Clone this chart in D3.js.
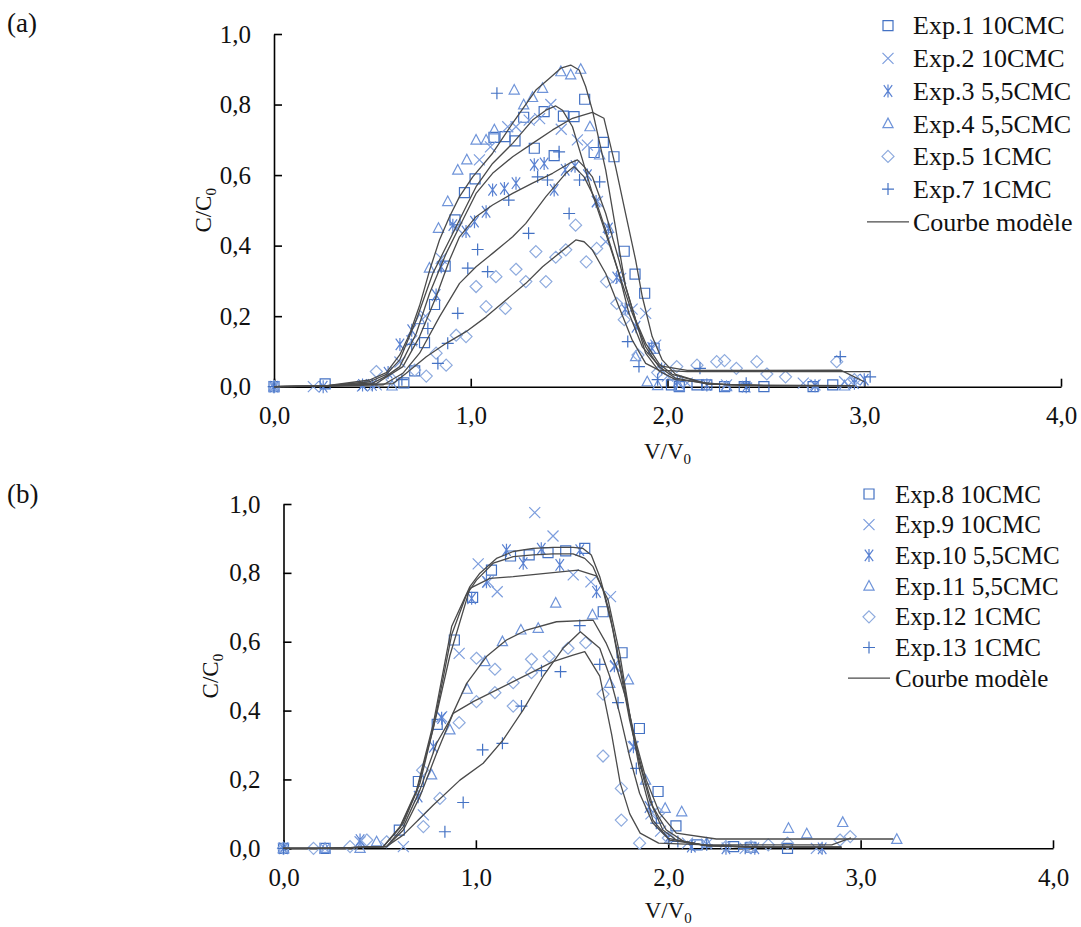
<!DOCTYPE html>
<html><head><meta charset="utf-8">
<script src="https://cdn.jsdelivr.net/npm/d3@7"></script>
<style>
body{margin:0;background:#fff}
svg{display:block}
text{font-family:"Liberation Serif","Times New Roman",serif;fill:#111}
</style>
</head><body>
<svg id="chart" width="1081" height="927"></svg>
<script>
// ---------- tick labels ----------
const xTicks = [0, 1, 2, 3, 4];
const yTicks = [0, 0.2, 0.4, 0.6, 0.8, 1.0];

// ---------- legend names ----------
const namesA = ["Exp.1 10CMC","Exp.2 10CMC","Exp.3 5,5CMC","Exp.4 5,5CMC","Exp.5 1CMC","Exp.7 1CMC"];
const namesB = ["Exp.8 10CMC","Exp.9 10CMC","Exp.10 5,5CMC","Exp.11 5,5CMC","Exp.12 1CMC","Exp.13 1CMC"];
const modelName = "Courbe modèle";

// ---------- panel (a) : experimental points [V/V0, C/C0] ----------
const exp1 = [[0,0],[0.26,0.008],[0.66,0.011],[0.715,0.045],[0.765,0.125],[0.816,0.233],[0.87,0.342],[0.92,0.473],[0.968,0.55],[1.022,0.589],[1.118,0.707],[1.174,0.709],[1.225,0.697],[1.269,0.764],[1.323,0.676],[1.373,0.78],[1.424,0.655],[1.471,0.767],[1.525,0.766],[1.579,0.815],[1.627,0.664],[1.674,0.693],[1.728,0.652],[1.78,0.384],[1.835,0.319],[1.884,0.265],[1.932,0.109],[2.02,0.005],[2.06,0.0],[2.15,0.005],[2.2,0.005],[2.29,0.0],[2.39,0.0],[2.49,0.0],[2.74,0.0],[2.84,0.005]];
const exp2 = [[0,0],[0.2,0.0],[0.45,0.002],[0.52,0.005],[0.64,0.07],[0.7,0.13],[0.77,0.2],[0.85,0.364],[0.93,0.45],[1.044,0.643],[1.1,0.68],[1.188,0.737],[1.23,0.737],[1.297,0.756],[1.35,0.76],[1.407,0.8],[1.46,0.73],[1.542,0.70],[1.593,0.685],[1.644,0.525],[1.686,0.411],[1.762,0.307],[1.82,0.22],[1.889,0.208],[1.94,0.118],[2.0,0.03],[2.1,0.01],[2.3,0.005],[2.69,0.01],[2.75,0.005],[2.9,0.014],[2.95,0.02]];
const exp3 = [[0,0],[0.25,0.0],[0.45,0.005],[0.5,0.005],[0.58,0.04],[0.64,0.12],[0.7,0.16],[0.824,0.26],[0.85,0.34],[0.909,0.458],[0.976,0.44],[1.019,0.468],[1.078,0.496],[1.111,0.558],[1.171,0.562],[1.23,0.577],[1.323,0.629],[1.373,0.633],[1.424,0.558],[1.48,0.615],[1.53,0.625],[1.593,0.6],[1.637,0.525],[1.7,0.449],[1.742,0.31],[1.785,0.22],[1.84,0.17],[1.92,0.11],[1.97,0.05],[2.05,0.015],[2.2,0.005],[2.4,0.0],[2.75,0.003],[2.95,0.01],[3.0,0.02]];
const exp4 = [[0,0],[0.6,0.002],[0.74,0.19],[0.79,0.336],[0.836,0.449],[0.883,0.525],[0.934,0.614],[0.98,0.643],[1.027,0.699],[1.078,0.699],[1.12,0.728],[1.221,0.841],[1.269,0.799],[1.314,0.82],[1.365,0.846],[1.458,0.893],[1.508,0.884],[1.559,0.9],[1.606,0.737],[1.655,0.657],[1.7,0.449],[1.838,0.085],[1.897,0.014],[1.95,0.003],[2.06,0.0],[2.3,0.0],[2.9,0.002]];
const exp5 = [[0,0],[0.52,0.043],[0.6,0.02],[0.715,0.047],[0.774,0.03],[0.824,0.095],[0.875,0.061],[0.926,0.146],[0.976,0.142],[1.027,0.284],[1.078,0.227],[1.128,0.312],[1.176,0.222],[1.23,0.333],[1.28,0.298],[1.331,0.383],[1.382,0.298],[1.432,0.367],[1.483,0.388],[1.533,0.458],[1.587,0.354],[1.64,0.392],[1.69,0.298],[1.742,0.236],[1.78,0.19],[1.85,0.09],[1.95,0.04],[2.047,0.057],[2.15,0.061],[2.25,0.071],[2.29,0.074],[2.35,0.052],[2.454,0.071],[2.505,0.036],[2.6,0.028],[2.86,0.071],[2.95,0.02]];
const exp7 = [[0,0],[0.65,0.02],[0.7,0.12],[0.782,0.165],[0.833,0.066],[0.883,0.123],[0.934,0.208],[0.985,0.336],[1.035,0.389],[1.086,0.326],[1.133,0.832],[1.193,0.529],[1.294,0.435],[1.34,0.595],[1.39,0.586],[1.449,0.666],[1.5,0.491],[1.553,0.586],[1.655,0.581],[1.798,0.128],[1.855,0.057],[1.95,0.02],[2.165,0.052],[2.4,0.01],[2.878,0.085],[3.03,0.028]];

// ---------- panel (a) : model curves ----------
const modelA1 = [[0,0],[0.26,0.002],[0.503,0.011],[0.571,0.03],[0.639,0.057],[0.723,0.151],[0.791,0.265],[0.875,0.378],[0.943,0.454],[1.027,0.548],[1.111,0.605],[1.213,0.652],[1.314,0.69],[1.416,0.728],[1.517,0.761],[1.618,0.778],[1.677,0.761],[1.736,0.624],[1.787,0.491],[1.838,0.359],[1.872,0.255],[1.922,0.142],[1.973,0.076],[2.041,0.035],[2.2,0.008],[2.5,0.003],[2.95,0.003]];
const modelA2 = [[0,0],[0.26,0.002],[0.486,0.014],[0.571,0.035],[0.639,0.076],[0.723,0.189],[0.807,0.321],[0.892,0.416],[0.976,0.51],[1.027,0.567],[1.111,0.633],[1.213,0.69],[1.314,0.756],[1.382,0.784],[1.432,0.796],[1.466,0.784],[1.517,0.737],[1.568,0.643],[1.618,0.548],[1.686,0.435],[1.753,0.321],[1.821,0.208],[1.889,0.113],[1.956,0.057],[2.041,0.024],[2.2,0.008],[2.5,0.003],[2.95,0.003]];
const modelA3 = [[0,0],[0.26,0.002],[0.52,0.009],[0.655,0.057],[0.74,0.142],[0.824,0.255],[0.892,0.359],[0.943,0.425],[1.027,0.482],[1.111,0.515],[1.213,0.548],[1.314,0.577],[1.416,0.605],[1.5,0.633],[1.542,0.643],[1.576,0.624],[1.618,0.595],[1.686,0.491],[1.753,0.359],[1.787,0.284],[1.838,0.189],[1.889,0.123],[1.956,0.066],[2.024,0.035],[2.2,0.008],[2.5,0.003],[2.95,0.003]];
const modelA4 = [[0,0],[0.26,0.002],[0.486,0.019],[0.571,0.04],[0.639,0.09],[0.69,0.15],[0.74,0.23],[0.791,0.33],[0.841,0.416],[0.892,0.482],[0.943,0.539],[1.01,0.595],[1.111,0.662],[1.213,0.747],[1.331,0.841],[1.399,0.874],[1.458,0.903],[1.508,0.912],[1.551,0.898],[1.584,0.851],[1.618,0.784],[1.686,0.614],[1.787,0.284],[1.889,0.095],[1.956,0.045],[2.041,0.02],[2.3,0.005],[2.95,0.003]];
const modelA5 = [[0,0],[0.26,0.002],[0.605,0.009],[0.672,0.038],[0.774,0.085],[0.875,0.123],[0.976,0.156],[1.078,0.198],[1.179,0.246],[1.28,0.293],[1.365,0.34],[1.449,0.378],[1.534,0.416],[1.576,0.411],[1.618,0.388],[1.686,0.321],[1.753,0.227],[1.821,0.132],[1.889,0.066],[1.956,0.047],[2.1,0.043],[3.03,0.043]];
const modelA7 = [[0,0],[0.26,0.002],[0.554,0.005],[0.655,0.038],[0.74,0.095],[0.841,0.198],[0.943,0.293],[1.027,0.34],[1.111,0.378],[1.213,0.425],[1.28,0.463],[1.382,0.539],[1.483,0.605],[1.525,0.624],[1.576,0.595],[1.635,0.529],[1.686,0.444],[1.753,0.321],[1.804,0.208],[1.872,0.113],[1.956,0.06],[2.1,0.046],[2.88,0.047],[3.0,0.014]];

// ---------- panel (b) : experimental points ----------
const exp8 = [[0,0],[0.216,0],[0.602,0.053],[0.701,0.194],[0.799,0.36],[0.888,0.605],[0.983,0.729],[1.081,0.808],[1.18,0.849],[1.277,0.852],[1.375,0.859],[1.467,0.864],[1.566,0.871],[1.662,0.687],[1.76,0.568],[1.85,0.348],[1.947,0.165],[2.04,0.065],[2.15,0.01],[2.34,0.005],[2.43,0.003],[2.62,0.0]];
const exp9 = [[0,0],[0.216,0.0],[0.398,0.019],[0.623,0.005],[0.727,0.097],[0.822,0.382],[0.913,0.566],[1.012,0.826],[1.064,0.774],[1.111,0.745],[1.306,0.975],[1.401,0.907],[1.506,0.794],[1.598,0.774],[1.7,0.731],[1.725,0.528],[1.818,0.295],[1.91,0.1],[1.96,0.05],[2.1,0.015],[2.2,0.012],[2.4,0.0],[2.77,0.0]];
const exp10 = [[0,0],[0.398,0.024],[0.7,0.15],[0.779,0.295],[0.822,0.378],[0.978,0.726],[1.055,0.774],[1.159,0.866],[1.246,0.828],[1.34,0.87],[1.436,0.823],[1.54,0.866],[1.627,0.745],[1.72,0.53],[1.819,0.295],[1.9,0.12],[2.0,0.03],[2.12,0.005],[2.3,0.0],[2.45,0.0],[2.8,0.0]];
const exp11 = [[0,0],[0.216,0],[0.398,0.0],[0.484,0.019],[0.77,0.213],[0.865,0.344],[0.955,0.462],[1.047,0.542],[1.138,0.6],[1.234,0.634],[1.324,0.639],[1.415,0.712],[1.606,0.678],[1.696,0.479],[1.793,0.489],[1.882,0.198],[1.984,0.116],[2.07,0.106],[2.2,0.015],[2.625,0.058],[2.72,0.042],[2.907,0.075],[3.188,0.026]];
const exp12 = [[0,0],[0.156,0],[0.346,0.005],[0.433,0.024],[0.536,0.019],[0.727,0.063],[0.723,0.227],[0.813,0.145],[0.913,0.365],[1.003,0.552],[1.003,0.426],[1.099,0.52],[1.099,0.452],[1.194,0.481],[1.194,0.413],[1.289,0.51],[1.289,0.549],[1.381,0.557],[1.479,0.581],[1.571,0.597],[1.661,0.448],[1.661,0.268],[1.756,0.174],[1.756,0.082],[1.851,0.015],[1.949,0.102],[2.0,0.03],[2.3,0.005],[2.43,0.005],[2.52,0.01],[2.62,0.015],[2.893,0.024],[2.946,0.034]];
const exp13 = [[0,0],[0.839,0.048],[0.934,0.133],[1.035,0.286],[1.138,0.305],[1.237,0.413],[1.341,0.516],[1.44,0.513],[1.54,0.647],[1.644,0.534],[1.739,0.423],[1.834,0.232],[1.938,0.073],[2.05,0.02],[2.2,0.01],[2.4,0.0]];

// ---------- panel (b) : model curves ----------
const modelB8 = [[0,0],[0.22,0],[0.519,0.005],[0.606,0.063],[0.692,0.169],[0.779,0.363],[0.874,0.644],[0.969,0.76],[1.021,0.799],[1.107,0.842],[1.194,0.862],[1.298,0.871],[1.401,0.874],[1.505,0.874],[1.557,0.871],[1.6,0.852],[1.644,0.789],[1.696,0.682],[1.747,0.528],[1.799,0.373],[1.851,0.247],[1.903,0.14],[1.972,0.053],[2.042,0.024],[2.2,0.008],[2.5,0.003],[2.9,0.003]];
const modelB9 = [[0,0],[0.22,0],[0.519,0.005],[0.623,0.073],[0.71,0.19],[0.796,0.39],[0.865,0.56],[0.969,0.755],[1.073,0.784],[1.194,0.789],[1.349,0.798],[1.531,0.808],[1.626,0.791],[1.687,0.722],[1.747,0.567],[1.799,0.392],[1.851,0.228],[1.92,0.082],[2.0,0.029],[2.2,0.008],[2.5,0.003],[2.9,0.003]];
const modelB10 = [[0,0],[0.22,0],[0.519,0.005],[0.606,0.06],[0.692,0.165],[0.779,0.35],[0.874,0.62],[0.95,0.735],[1.003,0.779],[1.09,0.828],[1.194,0.847],[1.298,0.852],[1.401,0.855],[1.505,0.855],[1.566,0.842],[1.609,0.818],[1.661,0.75],[1.713,0.634],[1.765,0.489],[1.817,0.334],[1.869,0.218],[1.92,0.121],[1.99,0.053],[2.08,0.02],[2.2,0.008],[2.5,0.003],[2.9,0.003]];
const modelB11 = [[0,0],[0.22,0],[0.536,0.005],[0.623,0.063],[0.709,0.169],[0.796,0.305],[0.865,0.373],[0.952,0.479],[1.055,0.557],[1.159,0.605],[1.263,0.634],[1.419,0.658],[1.609,0.663],[1.678,0.595],[1.73,0.528],[1.782,0.431],[1.834,0.305],[1.886,0.198],[1.955,0.102],[2.042,0.044],[2.25,0.027],[3.17,0.027]];
const modelB12 = [[0,0],[0.22,0],[0.536,0.005],[0.623,0.053],[0.709,0.15],[0.796,0.276],[0.882,0.392],[0.986,0.426],[1.09,0.455],[1.194,0.484],[1.298,0.513],[1.401,0.542],[1.505,0.561],[1.566,0.571],[1.644,0.5],[1.706,0.33],[1.75,0.19],[1.8,0.1],[1.854,0.044],[1.95,0.015],[2.2,0.01],[2.85,0.01],[2.95,0.03]];
const modelB13 = [[0,0],[0.22,0],[0.536,0.005],[0.623,0.039],[0.779,0.126],[0.917,0.198],[1.038,0.247],[1.142,0.315],[1.246,0.402],[1.349,0.499],[1.453,0.581],[1.543,0.629],[1.644,0.581],[1.696,0.499],[1.747,0.392],[1.799,0.266],[1.851,0.16],[1.92,0.073],[2.007,0.024],[2.2,0.008],[2.5,0.003],[2.9,0.003]];

// ---------- marker styles ----------
const shapes = ["square","times","asterisk","triangle","diamond","plus"];
const markerPath = {
  square:   "M-5,-5H5V5H-5Z",
  times:    "M-5.5,-5.5L5.5,5.5M-5.5,5.5L5.5,-5.5",
  asterisk: "M-4.2,-5.8L4.2,5.8M-4.2,5.8L4.2,-5.8M0,-6.5V6.5",
  triangle: "M0,-5.6L5.1,4H-5.1Z",
  diamond:  "M0,-6L6,0L0,6L-6,0Z",
  plus:     "M-6,0H6M0,-6V6"
};
const markerColor = {
  square: "#4472C4", times: "#7C9DDD", asterisk: "#5A82D2",
  triangle: "#6F94D9", diamond: "#8EABDE", plus: "#4472C4"
};

const panels = [
  { series:[exp1,exp2,exp3,exp4,exp5,exp7], models:[modelA1,modelA2,modelA3,modelA4,modelA5,modelA7],
    names:namesA, label:"(a)", labelY:32,
    x0:274, x1:1061, yTop:34, yBot:386.7, tickFs:25, titleFs:23,
    yTitleX:211, xTitleY:459,
    leg:{mx:888, tx:913, y0:25.6, dy:32.7, fs:26, l0:867, l1:909} },
  { series:[exp8,exp9,exp10,exp11,exp12,exp13], models:[modelB8,modelB9,modelB10,modelB11,modelB12,modelB13],
    names:namesB, label:"(b)", labelY:503,
    x0:283.5, x1:1053, yTop:504, yBot:848.3, tickFs:25, titleFs:23,
    yTitleX:218, xTitleY:918,
    leg:{mx:869, tx:895, y0:494, dy:30.7, fs:25, l0:848, l1:890} }
];

const svg = d3.select("#chart");
const fmt = d => d.toFixed(1).replace(".", ",");

panels.forEach(p => {
  const g = svg.append("g");
  const x = d3.scaleLinear().domain([0, 4]).range([p.x0, p.x1]);
  const y = d3.scaleLinear().domain([0, 1]).range([p.yBot, p.yTop]);

  g.append("text").attr("x", 7).attr("y", p.labelY).attr("font-size", 27).text(p.label);

  const gx = g.append("g").attr("transform", `translate(0,${p.yBot})`)
    .call(d3.axisBottom(x).tickValues(xTicks).tickFormat(fmt)
      .tickSizeInner(-8).tickSizeOuter(0).tickPadding(20));
  const gy = g.append("g").attr("transform", `translate(${p.x0},0)`)
    .call(d3.axisLeft(y).tickValues(yTicks).tickFormat(fmt)
      .tickSizeInner(-8).tickSizeOuter(0).tickPadding(23));
  [gx, gy].forEach(a => {
    a.attr("font-family", '"Liberation Serif","Times New Roman",serif').attr("font-size", p.tickFs);
    a.select(".domain").attr("stroke", "#000").attr("stroke-width", 1.6);
    a.selectAll(".tick line").attr("stroke", "#000").attr("stroke-width", 1.6);
    a.selectAll(".tick text").attr("fill", "#111");
  });

  const yt = g.append("text").attr("font-size", p.titleFs).attr("text-anchor", "middle")
    .attr("transform", `translate(${p.yTitleX},${(p.yTop + p.yBot) / 2}) rotate(-90)`);
  yt.append("tspan").text("C/C");
  yt.append("tspan").attr("font-size", p.titleFs * 0.65).attr("dy", 5).text("0");
  const xt = g.append("text").attr("font-size", p.titleFs).attr("text-anchor", "middle")
    .attr("x", (p.x0 + p.x1) / 2).attr("y", p.xTitleY);
  xt.append("tspan").text("V/V");
  xt.append("tspan").attr("font-size", p.titleFs * 0.65).attr("dy", 5).text("0");

  p.series.forEach((s, i) => {
    const sh = shapes[i];
    g.append("g").selectAll("path").data(s).join("path")
      .attr("d", markerPath[sh])
      .attr("transform", d => `translate(${x(d[0])},${y(d[1])})`)
      .attr("fill", "none").attr("stroke", markerColor[sh]).attr("stroke-width", 1.2);
  });

  const line = d3.line().x(d => x(d[0])).y(d => y(d[1]));
  p.models.forEach(m => {
    g.append("path").datum(m).attr("d", line)
      .attr("fill", "none").attr("stroke", "#4a4a4a").attr("stroke-width", 1.3)
      .attr("stroke-linejoin", "round");
  });

  const L = p.leg;
  p.names.forEach((n, i) => {
    const cy = L.y0 + i * L.dy;
    const sh = shapes[i];
    g.append("path").attr("d", markerPath[sh]).attr("transform", `translate(${L.mx},${cy})`)
      .attr("fill", "none").attr("stroke", markerColor[sh]).attr("stroke-width", 1.2);
    g.append("text").attr("x", L.tx).attr("y", cy).attr("dy", "0.34em")
      .attr("font-size", L.fs).text(n);
  });
  const ly = L.y0 + 6 * L.dy;
  g.append("line").attr("x1", L.l0).attr("x2", L.l1).attr("y1", ly).attr("y2", ly)
    .attr("stroke", "#4a4a4a").attr("stroke-width", 1.3);
  g.append("text").attr("x", L.tx).attr("y", ly).attr("dy", "0.34em")
    .attr("font-size", L.fs).text(modelName);
});
</script>
</body></html>
